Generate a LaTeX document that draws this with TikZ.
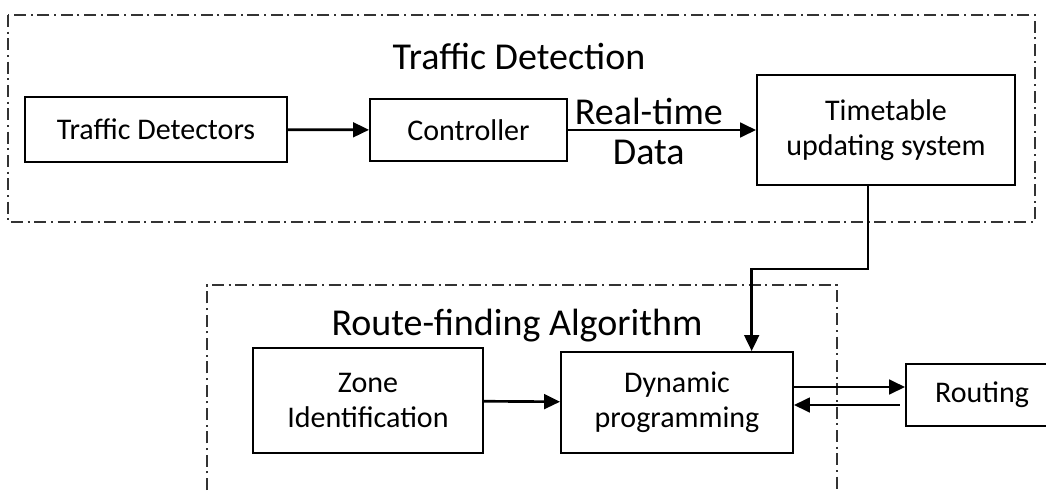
\documentclass[tikz,border=0pt]{standalone}
\usepackage{fontspec}
\setmainfont{Carlito}
\usetikzlibrary{arrows.meta}

\tikzset{
  block/.style={draw,line width=1.4pt,inner sep=2pt,align=center,
    font=\fontsize{22.5}{26}\selectfont},
  arr/.style={line width=2pt,-{Triangle[length=12pt,width=11pt]}},
  frame/.style={line width=1.1pt,black!80,
    dash pattern=on 9pt off 3.5pt on 1.5pt off 3.5pt},
  title/.style={font=\fontsize{28.5}{32}\selectfont}
}

\begin{document}
\begin{tikzpicture}[x=0.75pt,y=-0.75pt]
  \clip (0,0) rectangle (1046,490);
  % group frames
  \draw[frame] (8,15) rectangle (1035,222);
  \draw[frame] (207,490) -- (207,285) -- (837,285) -- (837,490);
  \node[title] (dettitle) at (519,56) {Traffic Detection};
  \node[title] (algtitle) at (517,326) {Route-finding Algorithm};

  % top row
  \node[block,minimum width=196.5pt,minimum height=48.75pt] (det) at (156,129.5) {Traffic Detectors};
  \node[block,minimum width=147.75pt,minimum height=46.5pt] (ctrl) at (468.5,130) {Controller};
  \node[block,minimum width=193.5pt,minimum height=82.5pt] (tt) at (886,130) {Timetable\\updating system};

  % bottom row
  \node[block,minimum width=172.5pt,minimum height=78.75pt] (zone) at (368,400.5) {Zone\\Identification};
  \node[block,minimum width=174pt,minimum height=75.75pt] (dyn) at (677,402.5) {Dynamic\\programming};
  \node[block,minimum width=114pt,minimum height=46.5pt] (route) at (982,395) {Routing};

  \draw[arr] (det) -- (ctrl);
  \draw[arr] (ctrl) -- (tt)
    node[title,pos=0.43,anchor=base,yshift=4pt] (rtlabel) {Real-time}
    node[title,pos=0.43,anchor=base,yshift=-26pt] (datalabel) {Data};
  \draw[arr] ([xshift=-13.5pt]tt.south) -- ++(0,83) -| ([xshift=56pt]dyn.north);
  \draw[arr] (zone) -- (dyn);
  \draw[arr] ([yshift=6pt]route.west -| dyn.east) -- ([yshift=6pt]route.west);
  \draw[arr] ([yshift=-7.5pt,xshift=-4pt]route.west) -- ([yshift=-7.5pt]route.west -| dyn.east);
\end{tikzpicture}
\end{document}
